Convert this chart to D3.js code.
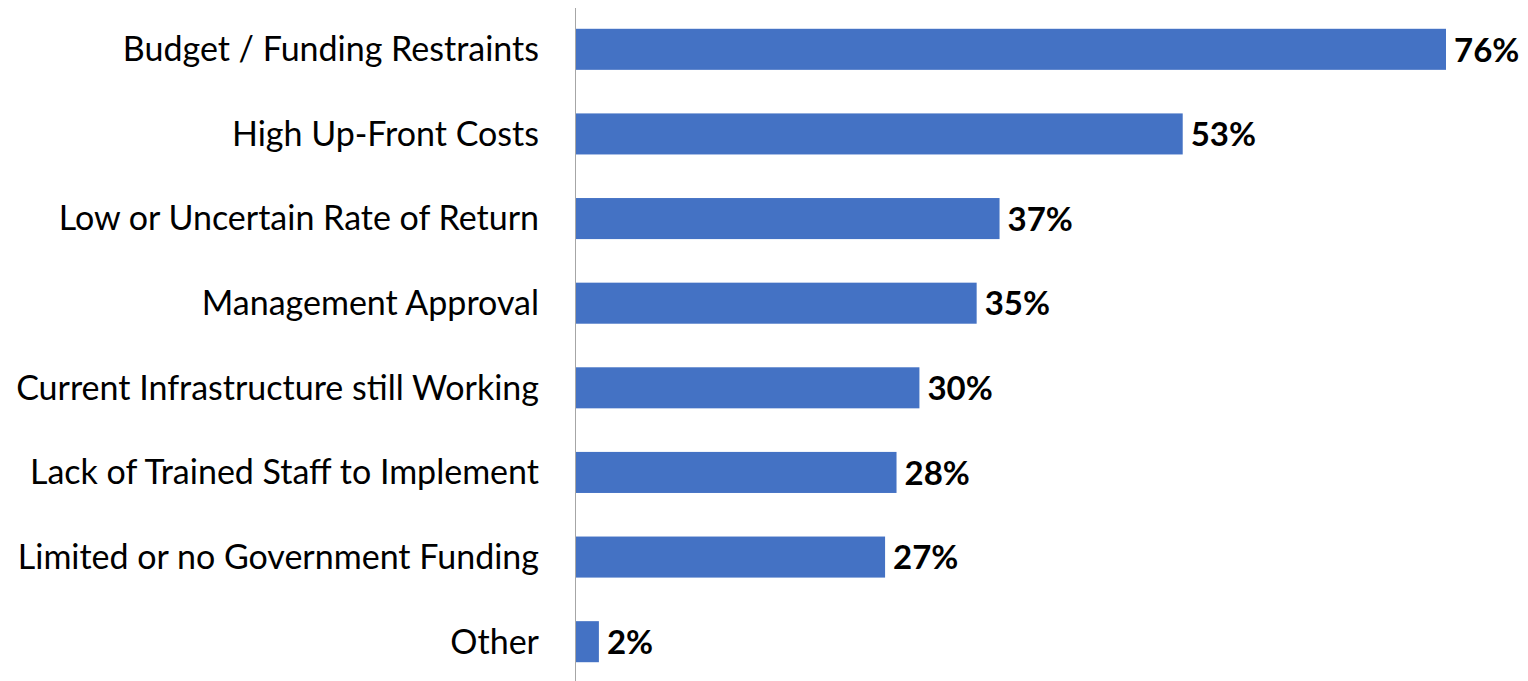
<!DOCTYPE html>
<html>
<head>
<meta charset="utf-8">
<script src="https://cdn.jsdelivr.net/npm/d3@7"></script>
<style>
  html, body { margin: 0; padding: 0; background: #fff; }
</style>
</head>
<body>
<div id="chart"></div>
<script>
const categories = [
  "Budget / Funding Restraints",
  "High Up-Front Costs",
  "Low or Uncertain Rate of Return",
  "Management Approval",
  "Current Infrastructure still Working",
  "Lack of Trained Staff to Implement",
  "Limited or no Government Funding",
  "Other"
];
const values = [76, 53, 37, 35, 30, 28, 27, 2];

const width = 1528;
const height = 681;
const axisX = 576;

const svg = d3.select("#chart").append("svg")
  .attr("width", width)
  .attr("height", height)
  .style("font-family", "Lato, 'Open Sans', sans-serif");

const y = d3.scaleBand()
  .domain(categories)
  .range([7, 684])
  .paddingInner(0.515)
  .paddingOuter(0.2575);

const x = d3.scaleLinear()
  .domain([0, 76])
  .range([axisX, 1446]);

// bars
svg.append("g")
  .selectAll("rect")
  .data(values)
  .join("rect")
  .attr("x", x(0))
  .attr("y", (d, i) => y(categories[i]))
  .attr("width", d => x(d) - x(0))
  .attr("height", y.bandwidth())
  .attr("fill", "#4472C4");

// category axis
svg.append("line")
  .attr("x1", axisX - 0.5).attr("x2", axisX - 0.5)
  .attr("y1", 8).attr("y2", height)
  .attr("stroke", "#a6a6a6")
  .attr("stroke-width", 1);

svg.append("g")
  .selectAll("text")
  .data(categories)
  .join("text")
  .attr("x", 539)
  .attr("y", d => y(d) + y.bandwidth() / 2)
  .attr("dy", "0.35em")
  .attr("text-anchor", "end")
  .attr("font-size", 34)
  .attr("fill", "#000")
  .text(d => d);

// value labels
svg.append("g")
  .selectAll("text")
  .data(values)
  .join("text")
  .attr("x", d => x(d) + 8)
  .attr("y", (d, i) => y(categories[i]) + y.bandwidth() / 2)
  .attr("dy", "0.37em")
  .attr("font-size", 33)
  .attr("font-weight", "bold")
  .attr("fill", "#000")
  .text(d => d + "%");
</script>
</body>
</html>
